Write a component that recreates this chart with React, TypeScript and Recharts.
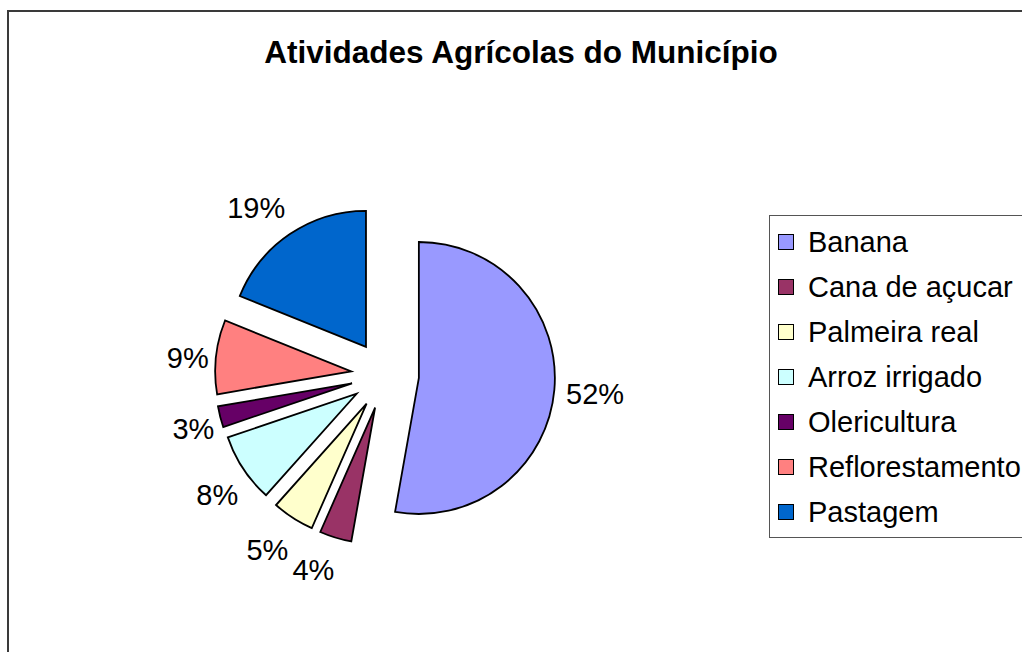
import { Cell, Pie, PieChart } from "recharts";

const categories = [
  "Banana",
  "Cana de açucar",
  "Palmeira real",
  "Arroz irrigado",
  "Olericultura",
  "Reflorestamento",
  "Pastagem",
];
// slice sizes as drawn (share of the total, %)
const values = [52.8, 3.8, 5.0, 8.2, 2.5, 8.8, 18.9];
// percentages printed on the chart
const labels = ["52%", "4%", "5%", "8%", "3%", "9%", "19%"];
const colors = [
  "#9999FF",
  "#993366",
  "#FFFFCC",
  "#CCFFFF",
  "#660066",
  "#FF8080",
  "#0066CC",
];
const title = "Atividades Agrícolas do Município";

const FONT = '"Liberation Sans", Arial, sans-serif';
const CX = 385;
const CY = 375;
const RADIUS = 136;
const EXPLODE = 34;
const RAD = Math.PI / 180;
// hand-placed data labels (distance from pie centre, angle nudge in degrees)
const LABEL_R = [211, 208, 211, 206, 199, 198, 211];
const LABEL_TURN = [0.2, 3.2, 1.1, -2.0, -1.4, -1.2, -3.6];

const total = values.reduce((a, b) => a + b, 0);
const pieData = categories.map((name, i) => ({ name, value: values[i] }));

// each slice gets its own pie, shifted out along its middle angle
const explodes = values.map((v, i) => {
  const before = values.slice(0, i).reduce((a, b) => a + b, 0);
  const mid = ((before + v / 2) / total) * 360;
  return {
    dx: EXPLODE * Math.sin(mid * RAD),
    dy: -EXPLODE * Math.cos(mid * RAD),
  };
});

function makeLabel(visible: number) {
  return (props: any) => {
    if (props.index !== visible) return null;
    const ox = props.cx - explodes[visible].dx;
    const oy = props.cy - explodes[visible].dy;
    const a = (90 - props.midAngle + LABEL_TURN[visible]) * RAD;
    const r = LABEL_R[visible];
    return (
      <text
        x={ox + r * Math.sin(a)}
        y={oy - r * Math.cos(a)}
        textAnchor="middle"
        dominantBaseline="central"
        fill="#000"
        fontSize={29}
        fontFamily={FONT}
      >
        {labels[visible]}
      </text>
    );
  };
}

export default function App() {
  return (
    <div
      style={{
        position: "absolute",
        left: 0,
        top: 0,
        width: 1022,
        height: 652,
        overflow: "hidden",
        background: "#fff",
        fontFamily: FONT,
      }}
    >
      <div
        style={{
          position: "absolute",
          left: 7,
          top: 10,
          width: 1100,
          height: 800,
          border: "2px solid #3a3a3a",
        }}
      />
      <div
        style={{
          position: "absolute",
          left: 0,
          width: 1042,
          top: 37,
          textAlign: "center",
          fontSize: 31.5,
          lineHeight: "31px",
          fontWeight: "bold",
          color: "#000",
        }}
      >
        {title}
      </div>

      <div style={{ position: "absolute", left: 0, top: 0 }}>
        <PieChart width={1022} height={652} margin={{ top: 0, right: 0, bottom: 0, left: 0 }}>
          {values.map((_, i) => (
            <Pie
              key={categories[i]}
              data={pieData}
              dataKey="value"
              nameKey="name"
              cx={CX + explodes[i].dx}
              cy={CY + explodes[i].dy}
              innerRadius={0}
              outerRadius={RADIUS}
              startAngle={90}
              endAngle={-270}
              label={makeLabel(i)}
              labelLine={false}
              isAnimationActive={false}
            >
              {pieData.map((d, j) => (
                <Cell
                  key={d.name}
                  fill={j === i ? colors[j] : "none"}
                  stroke={j === i ? "#000" : "none"}
                  strokeWidth={1.8}
                />
              ))}
            </Pie>
          ))}
        </PieChart>
      </div>

      <div
        style={{
          position: "absolute",
          left: 769,
          top: 215,
          width: 400,
          height: 323,
          border: "1px solid #555",
          boxSizing: "border-box",
        }}
      >
        {categories.map((c, i) => (
          <div
            key={c}
            style={{
              position: "absolute",
              left: 0,
              top: 9 + i * 45,
              height: 34,
              display: "flex",
              alignItems: "center",
            }}
          >
            <span
              style={{
                display: "inline-block",
                boxSizing: "border-box",
                marginLeft: 8,
                width: 16,
                height: 16,
                background: colors[i],
                border: "1.5px solid #000",
              }}
            />
            <span style={{ marginLeft: 14, fontSize: 29, color: "#000", whiteSpace: "nowrap" }}>
              {c}
            </span>
          </div>
        ))}
      </div>
    </div>
  );
}
